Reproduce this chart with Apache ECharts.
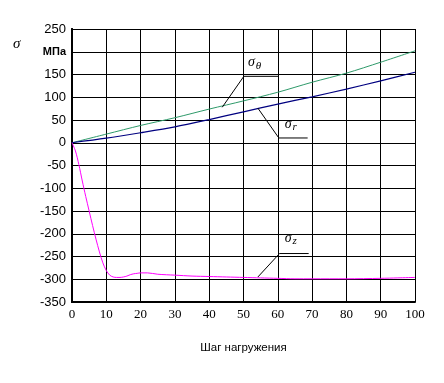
<!DOCTYPE html>
<html>
<head>
<meta charset="utf-8">
<script src="https://cdn.jsdelivr.net/npm/echarts@6/dist/echarts.min.js"></script>
<style>
html,body{margin:0;padding:0;background:#fff;}
#chart{width:444px;height:383px;}
</style>
</head>
<body>
<div id="chart"></div>
<script>
// Data
var xTheta = [0, 10, 20, 30, 40, 50, 60, 70, 80, 90, 100];
var sigmaTheta = [0, 19, 38, 55, 74, 92, 111, 133, 153, 177, 202];
var xR = [0, 10, 20, 30, 40, 50, 60, 70, 80, 90, 100];
var sigmaR = [0, 10, 22, 35, 51, 68, 85, 101, 118, 136, 155];
var xZ = [0, 1, 2, 3, 4, 5, 6, 7, 8, 9, 10, 11, 12, 13, 14, 15, 16, 17, 18, 19, 20, 22, 25, 30, 35, 40, 45, 50, 55, 60, 65, 70, 80, 90, 95, 100];
var sigmaZ = [0, -18, -48, -84, -118, -150, -182, -212, -240, -264, -281, -291, -295, -296, -296, -295, -293, -290, -288, -287, -286, -286, -289, -291, -293, -294, -295, -296, -297, -298, -299, -299, -299, -298, -297, -296];
var xTicks = [0, 10, 20, 30, 40, 50, 60, 70, 80, 90, 100];
var yUnitTick = 200;           // tick whose label is replaced by the unit
var yUnitLabel = 'МПа';
var xTitle = 'Шаг нагружения';
var yTitle = 'σ';
// annotation anchors in data coordinates: [line start, elbow, end], label position
var annTheta = {pts: [[43.8, 78], [50.1, 146], [60.2, 146]], label: [51.3, 176], main: 'σ', sub: 'θ'};
var annR = {pts: [[54.2, 76], [60.3, 10.5], [68.7, 10.5]], label: [62, 40], main: 'σ', sub: 'r'};
var annZ = {pts: [[54.2, -295], [60.5, -243.5], [69, -243.5]], label: [62, -210], main: 'σ', sub: 'z'};

function pairs(xs, ys) { return xs.map(function (x, i) { return [x, ys[i]]; }); }

var chart = echarts.init(document.getElementById('chart'), null, {renderer: 'canvas'});
var option = {
  animation: false,
  backgroundColor: '#fff',
  grid: {left: 72, right: 29, top: 29, bottom: 81, containLabel: false},
  xAxis: {
    type: 'value', min: 0, max: 100, interval: 10,
    axisLine: {show: true, onZero: false, lineStyle: {color: '#000', width: 2}},
    axisTick: {show: false},
    splitLine: {show: true, lineStyle: {color: '#000', width: 1}},
    axisLabel: {color: '#000', fontFamily: 'Liberation Serif', fontSize: 13, margin: 6},
    name: xTitle, nameLocation: 'middle', nameGap: 40,
    nameTextStyle: {color: '#000', fontFamily: 'Liberation Sans', fontSize: 11.5}
  },
  yAxis: [{
    type: 'value', min: -350, max: 250, interval: 50,
    axisLine: {show: true, onZero: false, lineStyle: {color: '#000', width: 2}},
    axisTick: {show: false},
    splitLine: {show: true, lineStyle: {color: '#000', width: 1}},
    axisLabel: {
      color: '#000', fontFamily: 'Liberation Sans', fontSize: 13, margin: 6,
      formatter: function (v) { return v === yUnitTick ? '{u|' + yUnitLabel + '}' : String(v); },
      rich: {u: {fontWeight: 'bold', fontSize: 11, fontFamily: 'Liberation Sans', color: '#000'}}
    }
  }, {
    type: 'value', min: -350, max: 250, interval: 50, position: 'right',
    axisLine: {show: true, lineStyle: {color: '#000', width: 2}},
    axisTick: {show: false}, axisLabel: {show: false}, splitLine: {show: false}
  }],
  series: [
    {type: 'line', name: 'σθ', data: pairs(xTheta, sigmaTheta), showSymbol: false, smooth: 0.3,
      lineStyle: {color: '#2e9a6a', width: 1}, itemStyle: {color: '#2e9a6a'}},
    {type: 'line', name: 'σr', data: pairs(xR, sigmaR), showSymbol: false, smooth: 0.3,
      lineStyle: {color: '#000080', width: 1.2}, itemStyle: {color: '#000080'}},
    {type: 'line', name: 'σz', data: pairs(xZ, sigmaZ), showSymbol: false, smooth: 0.3,
      lineStyle: {color: '#ff00ff', width: 1}, itemStyle: {color: '#ff00ff'}}
  ]
};
chart.setOption(option);

function annGraphics(a) {
  var p = a.pts.map(function (d) { return chart.convertToPixel({xAxisIndex: 0, yAxisIndex: 0}, d); });
  var l = chart.convertToPixel({xAxisIndex: 0, yAxisIndex: 0}, a.label);
  return [
    {type: 'polyline', shape: {points: p}, style: {stroke: '#000', lineWidth: 1, fill: null}, z: 50},
    {type: 'text', x: l[0], y: l[1], z: 50, style: {
      text: '{m|' + a.main + '}{s|' + a.sub + '}', textVerticalAlign: 'middle',
      rich: {
        m: {fontFamily: 'Liberation Serif', fontStyle: 'italic', fontSize: 14, fill: '#000'},
        s: {fontFamily: 'Liberation Serif', fontStyle: 'italic', fontSize: 11, fill: '#000', padding: [6, 0, 0, 1]}
      }
    }}
  ];
}
var g = [].concat(annGraphics(annTheta), annGraphics(annR), annGraphics(annZ));
g.push({type: 'text', left: 13, top: 37, z: 50, style: {
  text: yTitle, fontFamily: 'Liberation Serif', fontStyle: 'italic', fontSize: 15, fill: '#000'}});
chart.setOption({graphic: g});
</script>
</body>
</html>
